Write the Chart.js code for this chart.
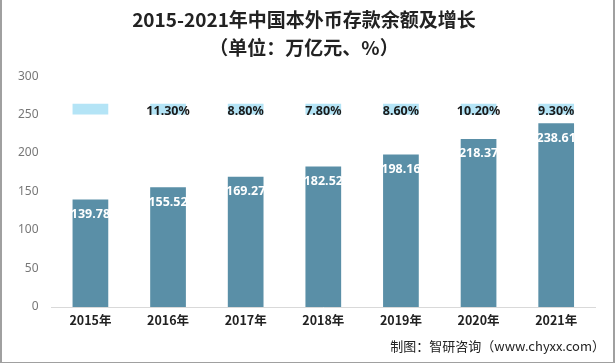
<!DOCTYPE html>
<html>
<head>
<meta charset="utf-8">
<script src="https://cdn.jsdelivr.net/npm/chart.js@4/dist/chart.umd.min.js"></script>
<style>
  html, body { margin: 0; padding: 0; background: #fff; }
  #wrap { position: relative; width: 615px; height: 363px; box-sizing: border-box;
          border-left: 2px solid #a0a0a0; border-right: 2px solid #a0a0a0; border-bottom: 1px solid #a0a0a0; }
  #footer { position: absolute; right: 8px; top: 336px; font: 13px "Noto Sans CJK SC", sans-serif; color: #222; }
</style>
</head>
<body>
<div id="wrap">
  <canvas id="grafico" width="611" height="362"></canvas>
  <div id="footer">制图：智研咨询（www.chyxx.com）</div>
</div>
<script>
// Dados
const anos = ["2015年", "2016年", "2017年", "2018年", "2019年", "2020年", "2021年"];
const saldos = [139.78, 155.52, 169.27, 182.52, 198.16, 218.37, 238.61];
const crescimento = [null, 11.3, 8.8, 7.8, 8.6, 10.2, 9.3];
const yTicks = [0, 50, 100, 150, 200, 250, 300];

// caixa azul clara atrás das percentagens
const faixa = [250, 264];

const rotulos = {
  id: 'rotulos',
  afterDatasetsDraw(chart) {
    const ctx = chart.ctx;
    const yScale = chart.scales.y;
    ctx.save();
    ctx.textAlign = 'center';
    ctx.textBaseline = 'middle';
    ctx.font = 'bold 12.5px "Noto Sans", "DejaVu Sans", sans-serif';
    chart.getDatasetMeta(0).data.forEach((bar, i) => {
      ctx.fillStyle = '#ffffff';
      ctx.fillText(saldos[i].toFixed(2), bar.x, bar.y + 15);
    });
    chart.getDatasetMeta(1).data.forEach((bar, i) => {
      if (crescimento[i] == null) return;
      ctx.fillStyle = '#1a1a1a';
      ctx.fillText(crescimento[i].toFixed(2) + '%', bar.x, yScale.getPixelForValue(254));
    });
    ctx.restore();
  }
};

new Chart(document.getElementById('grafico'), {
  type: 'bar',
  data: {
    labels: anos,
    datasets: [
      {
        label: '存款余额',
        data: saldos,
        backgroundColor: '#5a8fa7',
        barPercentage: 0.46,
        categoryPercentage: 1,
        grouped: false,
        order: 1
      },
      {
        label: '增长',
        data: crescimento.map(() => faixa),
        backgroundColor: '#b4e4f6',
        barPercentage: 0.46,
        categoryPercentage: 1,
        grouped: false,
        order: 2
      }
    ]
  },
  options: {
    responsive: false,
    animation: false,
    layout: { padding: { left: 11, right: 18, bottom: 36, top: 0 } },
    plugins: {
      legend: { display: false },
      tooltip: { enabled: false },
      title: {
        display: true,
        text: ['2015-2021年中国本外币存款余额及增长', '（单位：万亿元、%）'],
        color: '#222',
        font: { family: '"Noto Sans CJK SC", sans-serif', size: 19, weight: 'bold', lineHeight: 1.45 },
        padding: { top: 6, bottom: 15 }
      }
    },
    scales: {
      x: {
        grid: { display: false },
        border: { color: '#d9d9d9' },
        ticks: { color: '#222', font: { family: '"Noto Sans CJK SC", sans-serif', size: 12.5, weight: 'bold' }, padding: -2 }
      },
      y: {
        min: 0,
        max: 300,
        afterBuildTicks: axis => { axis.ticks = yTicks.map(v => ({ value: v })); },
        grid: { display: false },
        border: { display: false },
        ticks: { color: '#777', font: { family: '"Noto Sans", sans-serif', size: 12 }, padding: 5 }
      }
    }
  },
  plugins: [rotulos]
});
</script>
</body>
</html>
